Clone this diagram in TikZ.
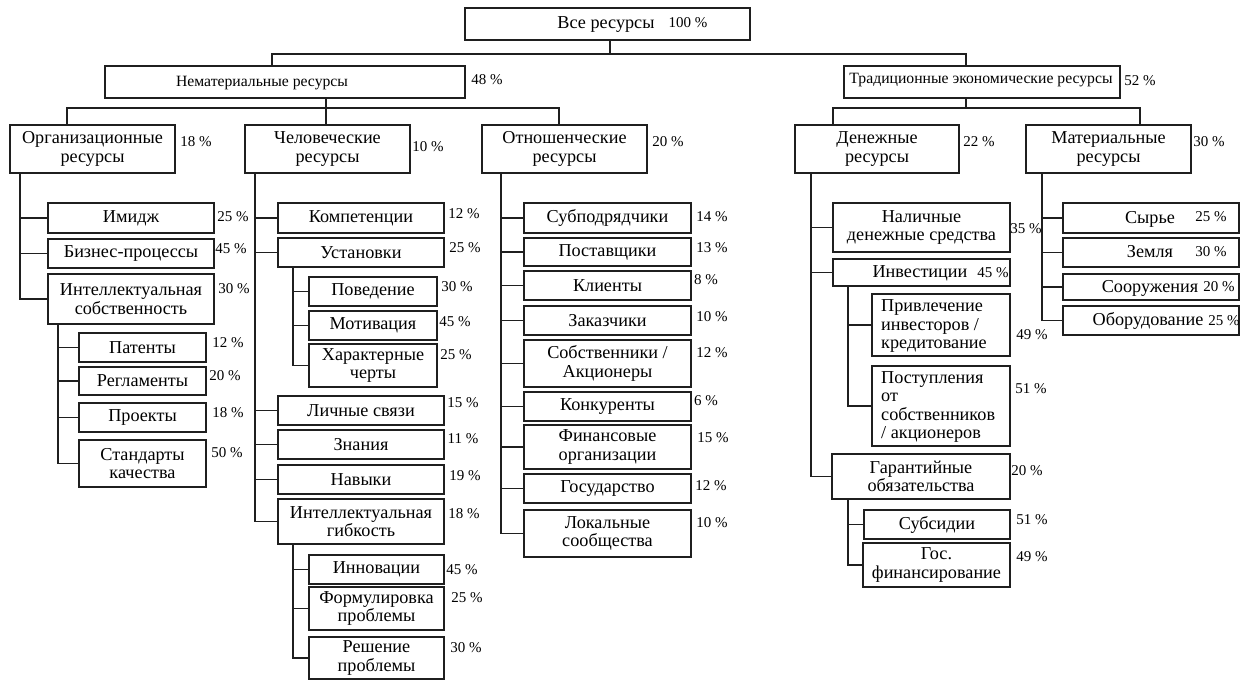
\documentclass[tikz,border=0pt]{standalone}
\usepackage{fontspec}
\setmainfont{Liberation Serif}
\newcommand\bxfont{\fontsize{18.2}{18.6}\selectfont}
\newcommand\tpfont{\fontsize{15.7}{16.5}\selectfont}
\newcommand\pcfont{\fontsize{15}{16}\selectfont}
% box: name, x1, y1, x2, y2, text
\newcommand\bx[6]{\node[box, minimum width={(#4-#2)*1pt}, minimum height={(#5-#3)*1pt}] (#1) at ({(#2+#4)/2},{(#3+#5)/2}) {#6};}
% percentage label: name, x, y, text
\newcommand\pc[4]{\node[pct] (#1) at (#2,#3) {#4};}
\begin{document}
\begin{tikzpicture}[x=1pt,y=-1pt,
  box/.style={draw=black!88, line width=1.4pt, inner sep=0pt, outer sep=0pt, align=center, font=\bxfont},
  pct/.style={inner sep=0pt, font=\pcfont},
  lbl/.style={inner sep=0pt, font=\bxfont, anchor=base},
  wire/.style={draw=black!88, line width=1.4pt}]
\useasboundingbox (0,0) rectangle (1246,680);

% ---------- top levels ----------
\bx{all}{465}{8}{750}{40}{}
\node[lbl] (allT) at (606,28) {Все ресурсы};
\pc{pAll}{688}{23}{100 \%}

\bx{nemat}{105}{66}{465}{98}{}
\node[lbl, font=\tpfont] (nematT) at (262,86) {Нематериальные ресурсы};
\pc{pNemat}{487}{80}{48 \%}

\bx{trad}{844}{66}{1120}{98}{}
\node[lbl, font=\tpfont] (tradT) at (981,83) {Традиционные экономические ресурсы};
\pc{pTrad}{1140}{81}{52 \%}

\bx{org}{10}{125}{175}{173}{Организационные\\ресурсы}
\bx{chel}{245}{125}{410}{173}{Человеческие\\ресурсы}
\bx{otn}{482}{125}{647}{173}{Отношенческие\\ресурсы}
\bx{den}{795}{125}{959}{173}{Денежные\\ресурсы}
\bx{mat}{1026}{125}{1191}{173}{Материальные\\ресурсы}
\pc{pOrg}{196}{142}{18 \%}
\pc{pChel}{428}{147}{10 \%}
\pc{pOtn}{668}{142}{20 \%}
\pc{pDen}{979}{142}{22 \%}
\pc{pMat}{1209}{142}{30 \%}

\coordinate (j0) at (610,54);
\coordinate (jL) at (272,54);
\coordinate (jR) at (966,54);
\draw[wire] (all.south -| j0) -- (j0);
\draw[wire] (nemat.north -| jL) |- (jR) -- (trad.north -| jR);

\coordinate (nJ) at (326,108);
\coordinate (nL) at (67,108);
\coordinate (nR) at (559,108);
\draw[wire] (nemat.south -| nJ) -- (chel.north -| nJ);
\draw[wire] (org.north -| nL) |- (nR) -- (otn.north -| nR);

\coordinate (tL) at (833,108);
\coordinate (tR) at (1140,108);
\draw[wire] (trad.south -| jR) -- (jR |- tL);
\draw[wire] (den.north -| tL) |- (tR) -- (mat.north -| tR);

% ---------- organisational resources ----------
\bx{imidzh}{48}{203}{214}{233}{Имидж}
\bx{biz}{48}{239}{214}{268}{Бизнес-процессы}
\bx{intsob}{48}{274}{214}{324}{Интеллектуальная\\собственность}
\bx{pat}{79}{333}{206}{362}{Патенты}
\bx{reg}{79}{367}{206}{395}{Регламенты}
\bx{proj}{79}{403}{206}{432}{Проекты}
\bx{stand}{79}{440}{206}{487}{Стандарты\\качества}
\pc{pImidzh}{233}{217}{25 \%}
\pc{pBiz}{231}{249}{45 \%}
\pc{pIntsob}{234}{289}{30 \%}
\pc{pPat}{228}{343}{12 \%}
\pc{pReg}{225}{376}{20 \%}
\pc{pProj}{228}{413}{18 \%}
\pc{pStand}{227}{453}{50 \%}

\coordinate (orgT) at (20,173);
\coordinate (intsobT) at (58,324);
\foreach \c in {imidzh,biz,intsob} \draw[wire] (orgT) |- (\c.west);
\foreach \c in {pat,reg,proj,stand} \draw[wire] (intsobT) |- (\c.west);

% ---------- human resources ----------
\bx{komp}{278}{203}{444}{233}{Компетенции}
\bx{ustan}{278}{238}{444}{267}{Установки}
\bx{poved}{309}{277}{437}{306}{Поведение}
\bx{motiv}{309}{311}{437}{340}{Мотивация}
\bx{harakt}{309}{344}{437}{387}{Характерные\\черты}
\bx{lich}{278}{396}{444}{425}{Личные связи}
\bx{znan}{278}{430}{444}{459}{Знания}
\bx{navyk}{278}{465}{444}{494}{Навыки}
\bx{intgib}{278}{499}{444}{544}{Интеллектуальная\\гибкость}
\bx{innov}{309}{555}{444}{584}{Инновации}
\bx{formul}{309}{587}{444}{630}{Формулировка\\проблемы}
\bx{resh}{309}{637}{444}{679}{Решение\\проблемы}
\pc{pKomp}{464}{214}{12 \%}
\pc{pUstan}{465}{248}{25 \%}
\pc{pPoved}{457}{287}{30 \%}
\pc{pMotiv}{455}{322}{45 \%}
\pc{pHarakt}{456}{355}{25 \%}
\pc{pLich}{463}{403}{15 \%}
\pc{pZnan}{463}{439}{11 \%}
\pc{pNavyk}{465}{476}{19 \%}
\pc{pIntgib}{464}{514}{18 \%}
\pc{pInnov}{462}{570}{45 \%}
\pc{pFormul}{467}{598}{25 \%}
\pc{pResh}{466}{648}{30 \%}

\coordinate (chelT) at (255,173);
\coordinate (ustanT) at (293,267);
\coordinate (intgibT) at (293,544);
\foreach \c in {komp,ustan,lich,znan,navyk,intgib} \draw[wire] (chelT) |- (\c.west);
\foreach \c in {poved,motiv,harakt} \draw[wire] (ustanT) |- (\c.west);
\foreach \c in {innov,formul,resh} \draw[wire] (intgibT) |- (\c.west);

% ---------- relational resources ----------
\bx{subp}{524}{203}{691}{233}{Субподрядчики}
\bx{post}{524}{238}{691}{266}{Поставщики}
\bx{klient}{524}{271}{691}{300}{Клиенты}
\bx{zakaz}{524}{306}{691}{335}{Заказчики}
\bx{sobst}{524}{340}{691}{387}{Собственники /\\Акционеры}
\bx{konk}{524}{392}{691}{421}{Конкуренты}
\bx{finorg}{524}{425}{691}{469}{Финансовые\\организации}
\bx{gos}{524}{474}{691}{503}{Государство}
\bx{lok}{524}{510}{691}{557}{Локальные\\сообщества}
\pc{pSubp}{712}{217}{14 \%}
\pc{pPost}{712}{248}{13 \%}
\pc{pKlient}{706}{280}{8 \%}
\pc{pZakaz}{712}{317}{10 \%}
\pc{pSobst}{712}{353}{12 \%}
\pc{pKonk}{706}{401}{6 \%}
\pc{pFinorg}{713}{438}{15 \%}
\pc{pGos}{711}{486}{12 \%}
\pc{pLok}{712}{523}{10 \%}

\coordinate (otnT) at (501,173);
\foreach \c in {subp,post,klient,zakaz,sobst,konk,finorg,gos,lok} \draw[wire] (otnT) |- (\c.west);

% ---------- monetary resources ----------
\bx{nal}{833}{203}{1010}{252}{Наличные\\денежные средства}
\bx{inv}{833}{259}{1010}{286}{}
\node[lbl] (invT) at (920,277) {Инвестиции};
\bx{privl}{872}{294}{1010}{356}{}
\node[lbl, anchor=west, align=left] (privlT) at (881,326) {Привлечение\\инвесторов /\\кредитование};
\bx{postup}{872}{366}{1010}{446}{}
\node[lbl, anchor=west, align=left] (postupT) at (881,407) {Поступления\\от\\собственников\\/ акционеров};
\bx{garant}{832}{454}{1010}{499}{Гарантийные\\обязательства}
\bx{subs}{864}{510}{1010}{539}{Субсидии}
\bx{gosfin}{863}{543}{1010}{587}{Гос.\\финансирование}
\pc{pNal}{1026}{229}{35 \%}
\pc{pInv}{993}{273}{45 \%}
\pc{pPrivl}{1032}{335}{49 \%}
\pc{pPostup}{1031}{389}{51 \%}
\pc{pGarant}{1027}{471}{20 \%}
\pc{pSubs}{1032}{520}{51 \%}
\pc{pGosfin}{1032}{557}{49 \%}

\coordinate (denT) at (811,173);
\coordinate (invB) at (848,286);
\coordinate (garantB) at (848,499);
\foreach \c in {nal,inv,garant} \draw[wire] (denT) |- (\c.west);
\foreach \c in {privl,postup} \draw[wire] (invB) |- (\c.west);
\foreach \c in {subs,gosfin} \draw[wire] (garantB) |- (\c.west);

% ---------- material resources ----------
\bx{syr}{1063}{203}{1239}{233}{}
\bx{zem}{1063}{238}{1239}{267}{}
\bx{soor}{1063}{274}{1239}{300}{}
\bx{obor}{1063}{306}{1239}{335}{}
\node[lbl] (syrT) at (1150,223) {Сырье};
\node[lbl] (zemT) at (1150,257) {Земля};
\node[lbl] (soorT) at (1150,292) {Сооружения};
\node[lbl] (oborT) at (1148,325) {Оборудование};
\pc{pSyr}{1211}{217}{25 \%}
\pc{pZem}{1211}{252}{30 \%}
\pc{pSoor}{1219}{287}{20 \%}
\pc{pObor}{1224}{321}{25 \%}

\coordinate (matT) at (1042,173);
\foreach \c in {syr,zem,soor,obor} \draw[wire] (matT) |- (\c.west);
\end{tikzpicture}
\end{document}
